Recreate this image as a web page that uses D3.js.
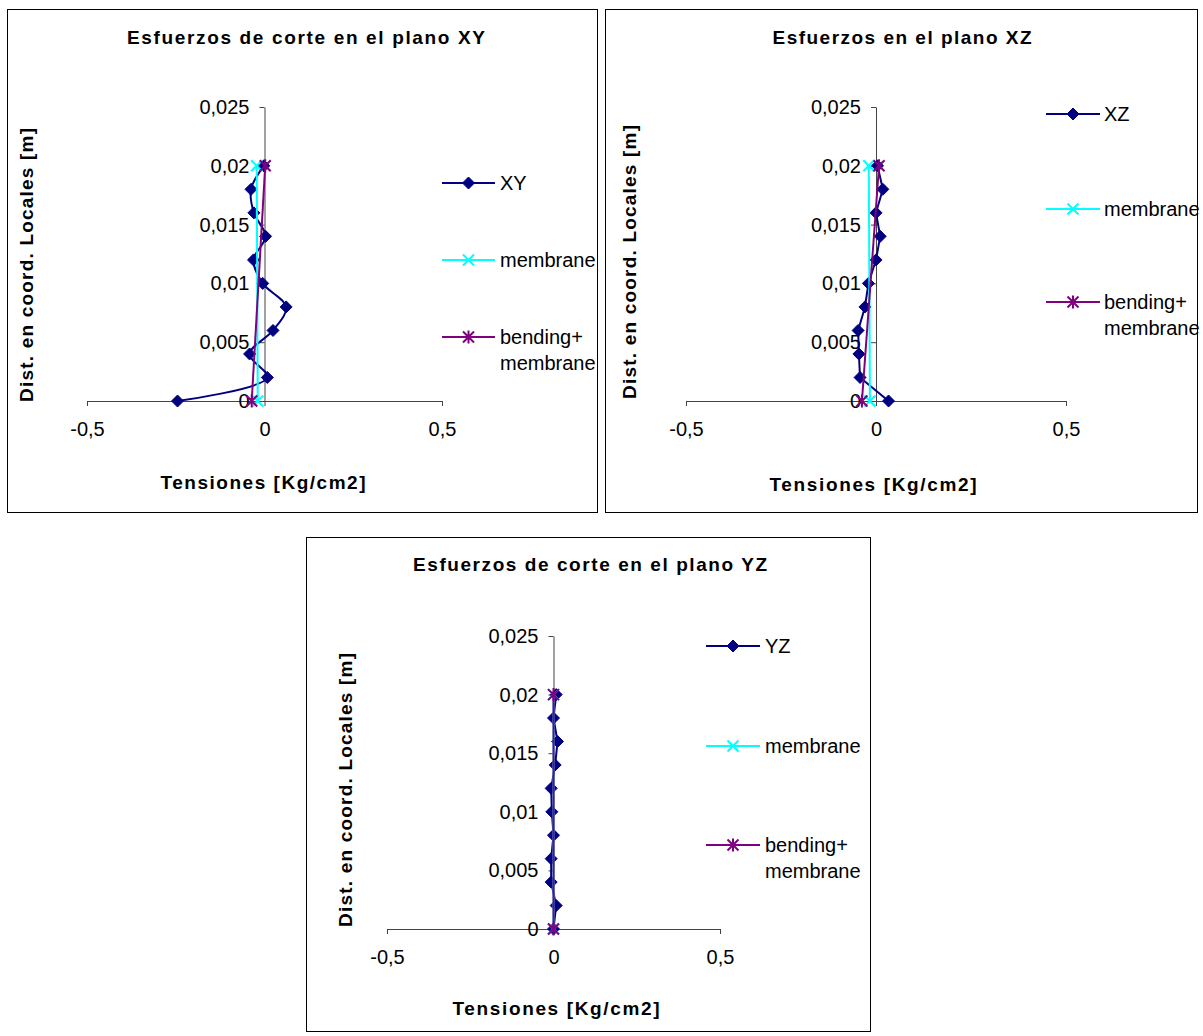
<!DOCTYPE html>
<html>
<head>
<meta charset="utf-8">
<script src="https://cdn.jsdelivr.net/npm/d3@7"></script>
<style>
  html, body { margin: 0; padding: 0; background: #fff; }
  svg { display: block; }
  text { font-family: Arial, "Liberation Sans", sans-serif; fill: #000; }
</style>
</head>
<body>
<svg id="c" width="1203" height="1036"></svg>
<script>
// ---------- DATA ----------
const yLevels = [0, 0.002, 0.004, 0.006, 0.008, 0.010, 0.012, 0.014, 0.016, 0.018, 0.020];
const yEnds = [0, 0.020];

const xyValues = [-0.245, 0.008, -0.042, 0.024, 0.061, -0.005, -0.031, 0.003, -0.030, -0.038, -0.002];
const xyMembrane = [-0.019, -0.022];
const xyBending = [-0.036, 0.002];

const xzValues = [0.033, -0.042, -0.045, -0.047, -0.029, -0.020, 0.000, 0.011, 0.000, 0.018, 0.004];
const xzMembrane = [-0.016, -0.019];
const xzBending = [-0.037, 0.008];

const yzValues = [0.000, 0.008, -0.007, -0.007, 0.000, -0.005, -0.007, 0.005, 0.012, 0.000, 0.008];
const yzMembrane = [0.000, 0.000];
const yzBending = [0.000, 0.000];

const yTicks = [0, 0.005, 0.010, 0.015, 0.020, 0.025];
const xTicks = [-0.5, 0, 0.5];
const yDomain = [0, 0.025];
const xDomain = [-0.5, 0.5];

const titles = ["Esfuerzos de corte en el plano XY", "Esfuerzos en el plano XZ", "Esfuerzos de corte en el plano YZ"];
const mainNames = ["XY", "XZ", "YZ"];
const xTitle = "Tensiones [Kg/cm2]";
const yTitle = "Dist. en coord. Locales [m]";

// ---------- LAYOUT ----------
const svg = d3.select("#c");
const fmt = d => String(+(+d).toFixed(4)).replace(".", ",");

const colors = {main: "#000080", membrane: "#00FFFF", bending: "#800080"};

const charts = [
  {frame: [7, 9, 590, 503], xr: [87, 442], yr: [401, 107], curve: d3.curveCatmullRom.alpha(0.5),
   title: {x: 306, y: 37, len: 358}, xt: {x: 263, y: 482, len: 205}, yt: {x: 26, y: 265, len: 274},
   leg: {x1: 442, x2: 495, tx: 500, ys: [183, 260, 337]},
   main: xyValues, mem: xyMembrane, ben: xyBending},
  {frame: [605, 9, 592, 503], xr: [686, 1066], yr: [401, 107], curve: d3.curveLinear,
   title: {x: 902, y: 37, len: 259}, xt: {x: 873, y: 484, len: 207}, yt: {x: 629, y: 262, len: 274},
   leg: {x1: 1046, x2: 1100, tx: 1104, ys: [114, 209, 302]},
   main: xzValues, mem: xzMembrane, ben: xzBending},
  {frame: [306, 537, 564, 494], xr: [387, 720], yr: [929, 636], curve: d3.curveLinear,
   title: {x: 590, y: 564, len: 354}, xt: {x: 556, y: 1008, len: 207}, yt: {x: 345, y: 790, len: 274},
   leg: {x1: 706, x2: 760, tx: 765, ys: [646, 746, 845]},
   main: yzValues, mem: yzMembrane, ben: yzBending}
];

function diamond(g, x, y, c) {
  const r = 6;
  g.append("path").attr("d", `M${x},${y - r}L${x + r},${y}L${x},${y + r}L${x - r},${y}Z`)
    .attr("fill", c).attr("stroke", c).attr("stroke-width", 1);
}
function cross(g, x, y, c) {
  const r = 5.5;
  g.append("path").attr("d", `M${x - r},${y - r}L${x + r},${y + r}M${x - r},${y + r}L${x + r},${y - r}`)
    .attr("stroke", c).attr("stroke-width", 2).attr("fill", "none");
}
function star(g, x, y, c) {
  const r = 5.5;
  g.append("path").attr("d", `M${x - r},${y - r}L${x + r},${y + r}M${x - r},${y + r}L${x + r},${y - r}M${x},${y - r - 1}L${x},${y + r + 1}`)
    .attr("stroke", c).attr("stroke-width", 2).attr("fill", "none");
}

charts.forEach((ch, i) => {
  const g = svg.append("g");
  const [fx, fy, fw, fh] = ch.frame;
  g.append("rect").attr("x", fx + 0.5).attr("y", fy + 0.5).attr("width", fw).attr("height", fh)
    .attr("fill", "#fff").attr("stroke", "#000").attr("stroke-width", 1);

  const x = d3.scaleLinear().domain(xDomain).range(ch.xr);
  const y = d3.scaleLinear().domain(yDomain).range(ch.yr);

  const xa = g.append("g").attr("transform", `translate(0,${y(0)})`)
    .call(d3.axisBottom(x).tickValues(xTicks).tickFormat(fmt).tickSize(5).tickSizeOuter(0).tickPadding(16));
  const ya = g.append("g").attr("transform", `translate(${x(0)},0)`)
    .call(d3.axisLeft(y).tickValues(yTicks).tickFormat(fmt).tickSize(5).tickSizeOuter(0).tickPadding(10));
  [xa, ya].forEach(a => {
    a.select(".domain").attr("stroke", "#444");
    a.selectAll(".tick line").attr("stroke", "#444");
    a.selectAll(".tick text").attr("font-size", 20).attr("font-family", "Arial, 'Liberation Sans', sans-serif").attr("fill", "#000");
  });

  g.append("text").attr("x", ch.title.x).attr("y", ch.title.y).attr("text-anchor", "middle")
    .attr("dominant-baseline", "central").attr("font-size", 19).attr("font-weight", "bold")
    .attr("textLength", ch.title.len).attr("lengthAdjust", "spacing").text(titles[i]);
  g.append("text").attr("x", ch.xt.x).attr("y", ch.xt.y).attr("text-anchor", "middle")
    .attr("dominant-baseline", "central").attr("font-size", 19).attr("font-weight", "bold")
    .attr("textLength", ch.xt.len).attr("lengthAdjust", "spacing").text(xTitle);
  g.append("text").attr("transform", `translate(${ch.yt.x},${ch.yt.y}) rotate(-90)`).attr("text-anchor", "middle")
    .attr("dominant-baseline", "central").attr("font-size", 19).attr("font-weight", "bold")
    .attr("textLength", ch.yt.len).attr("lengthAdjust", "spacing").text(yTitle);

  const mainPts = yLevels.map((lv, k) => [ch.main[k], lv]);
  const memPts = yEnds.map((lv, k) => [ch.mem[k], lv]);
  const benPts = yEnds.map((lv, k) => [ch.ben[k], lv]);

  const lineMain = d3.line().x(d => x(d[0])).y(d => y(d[1])).curve(ch.curve);
  const lineLin = d3.line().x(d => x(d[0])).y(d => y(d[1]));

  g.append("path").attr("d", lineMain(mainPts)).attr("fill", "none").attr("stroke", colors.main).attr("stroke-width", 2);
  mainPts.forEach(p => diamond(g, x(p[0]), y(p[1]), colors.main));

  g.append("path").attr("d", lineLin(memPts)).attr("fill", "none").attr("stroke", colors.membrane).attr("stroke-width", 2);
  memPts.forEach(p => cross(g, x(p[0]), y(p[1]), colors.membrane));

  g.append("path").attr("d", lineLin(benPts)).attr("fill", "none").attr("stroke", colors.bending).attr("stroke-width", 2);
  benPts.forEach(p => star(g, x(p[0]), y(p[1]), colors.bending));

  const L = ch.leg;
  const entries = [
    {c: colors.main, m: diamond, lines: [mainNames[i]]},
    {c: colors.membrane, m: cross, lines: ["membrane"]},
    {c: colors.bending, m: star, lines: ["bending+", "membrane"]}
  ];
  entries.forEach((e, k) => {
    const ly = L.ys[k];
    g.append("line").attr("x1", L.x1).attr("x2", L.x2).attr("y1", ly).attr("y2", ly)
      .attr("stroke", e.c).attr("stroke-width", 2);
    e.m(g, (L.x1 + L.x2) / 2, ly, e.c);
    e.lines.forEach((t, j) => {
      g.append("text").attr("x", L.tx).attr("y", ly + j * 26).attr("dominant-baseline", "central")
        .attr("font-size", 20).text(t);
    });
  });
});
</script>
</body>
</html>
